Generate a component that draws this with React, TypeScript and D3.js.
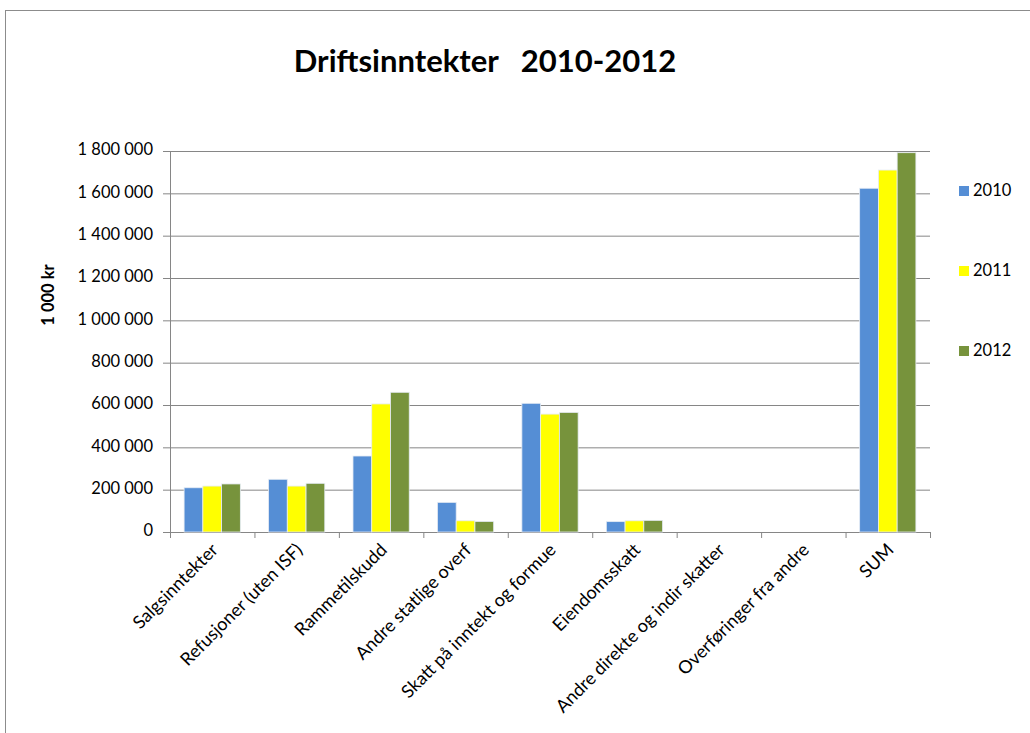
import React from 'react';
import * as d3 from 'd3';

const CATEGORIES = [
    "Salgsinntekter",
    "Refusjoner (uten ISF)",
    "Rammetilskudd",
    "Andre statlige overf",
    "Skatt på inntekt og formue",
    "Eiendomsskatt",
    "Andre direkte og indir skatter",
    "Overføringer fra andre",
    "SUM"
];

const YEARS = ["2010", "2011", "2012"];

const VALUES_2010 = [209000, 249000, 359000, 140000, 608000, 49000, 0, 0, 1624000];
const VALUES_2011 = [217000, 217000, 605000, 53000, 557000, 53000, 0, 0, 1710000];
const VALUES_2012 = [227000, 230000, 660000, 50000, 565000, 55000, 0, 0, 1792000];

const Y_TICKS = [0, 200000, 400000, 600000, 800000, 1000000, 1200000, 1400000, 1600000, 1800000];

const COLORS = ["#558ED5", "#FFFF00", "#77933C"];

const fmt = (v: number) => d3.format(",")(v).replace(/,/g, "\u00a0");

const App: React.FC = () => {
    const width = 1030;
    const height = 733;
    const margin = { top: 151, left: 170, right: 100, bottom: 201 };
    const innerWidth = width - margin.left - margin.right;
    const innerHeight = height - margin.top - margin.bottom;

    const series = [VALUES_2010, VALUES_2011, VALUES_2012];

    const xScale = d3.scaleBand<string>()
        .domain(CATEGORIES)
        .range([0, innerWidth])
        .paddingInner(0)
        .paddingOuter(0);

    const bandPad = xScale.bandwidth() * 0.167;
    const xInner = d3.scaleBand<string>()
        .domain(YEARS)
        .range([bandPad, xScale.bandwidth() - bandPad]);

    const yScale = d3.scaleLinear()
        .domain([0, 1800000])
        .range([innerHeight, 0]);

    const font = "Lato, 'Open Sans', sans-serif";
    const axisColor = "#868686";

    return (
        <div style={{ position: 'absolute', left: 0, top: 0 }}>
            <svg width={width} height={height} style={{ display: 'block', background: '#fff' }}>
                <rect x={5.5} y={10.5} width={width + 10} height={height + 10} fill="none" stroke="#8c8c8c" strokeWidth={1} />

                <text x={485} y={72} textAnchor="middle" fontFamily={font} fontWeight="bold" fontSize="31px" fill="#000" style={{ whiteSpace: 'pre' }}>
                    {"Driftsinntekter   2010-2012"}
                </text>

                <g transform={`translate(${margin.left}, ${margin.top})`}>
                    {Y_TICKS.map(t => (
                        <g key={t}>
                            <line x1={0} x2={innerWidth} y1={yScale(t) + 0.5} y2={yScale(t) + 0.5} stroke={axisColor} strokeWidth={1} />
                            <line x1={-7} x2={0} y1={yScale(t) + 0.5} y2={yScale(t) + 0.5} stroke={axisColor} strokeWidth={1} />
                            <text x={-17} y={yScale(t)} textAnchor="end" dominantBaseline="middle" fontFamily={font} fontSize="16.5px" fill="#000">
                                {fmt(t)}
                            </text>
                        </g>
                    ))}

                    <line x1={0.5} x2={0.5} y1={0} y2={innerHeight} stroke={axisColor} strokeWidth={1} />

                    {CATEGORIES.map(c => (
                        <line key={c} x1={(xScale(c) || 0) + xScale.bandwidth() + 0.5} x2={(xScale(c) || 0) + xScale.bandwidth() + 0.5}
                            y1={innerHeight} y2={innerHeight + 6} stroke={axisColor} strokeWidth={1} />
                    ))}
                    <line x1={0.5} x2={0.5} y1={innerHeight} y2={innerHeight + 6} stroke={axisColor} strokeWidth={1} />

                    {CATEGORIES.map((c, i) => (
                        <g key={c} transform={`translate(${xScale(c) || 0}, 0)`}>
                            {YEARS.map((yr, s) => {
                                const v = series[s][i];
                                if (!v) return null;
                                return (
                                    <rect
                                        key={yr}
                                        x={xInner(yr)}
                                        y={yScale(v)}
                                        width={xInner.bandwidth()}
                                        height={innerHeight - yScale(v)}
                                        fill={COLORS[s]}
                                        stroke="#e6ecf4"
                                        strokeWidth={0.8}
                                    />
                                );
                            })}
                        </g>
                    ))}

                    {CATEGORIES.map(c => {
                        const cx = (xScale(c) || 0) + xScale.bandwidth() / 2 + 7;
                        return (
                            <text key={c} transform={`translate(${cx}, ${innerHeight + 19}) rotate(-45)`}
                                textAnchor="end" fontFamily={font} fontSize="18px" fill="#000">
                                {c}
                            </text>
                        );
                    })}
                </g>

                <text transform={`translate(54, 295) rotate(-90)`} textAnchor="middle" fontFamily={font} fontWeight="bold" fontSize="16.5px" fill="#000">
                    1 000 kr
                </text>

                {YEARS.map((yr, s) => (
                    <g key={yr} transform={`translate(959, ${192 + s * 80})`}>
                        <rect x={0} y={-6} width={10} height={10} fill={COLORS[s]} />
                        <text x={14} y={0} dominantBaseline="middle" fontFamily={font} fontSize="16.5px" fill="#000">{yr}</text>
                    </g>
                ))}
            </svg>
        </div>
    );
};

export default App;
